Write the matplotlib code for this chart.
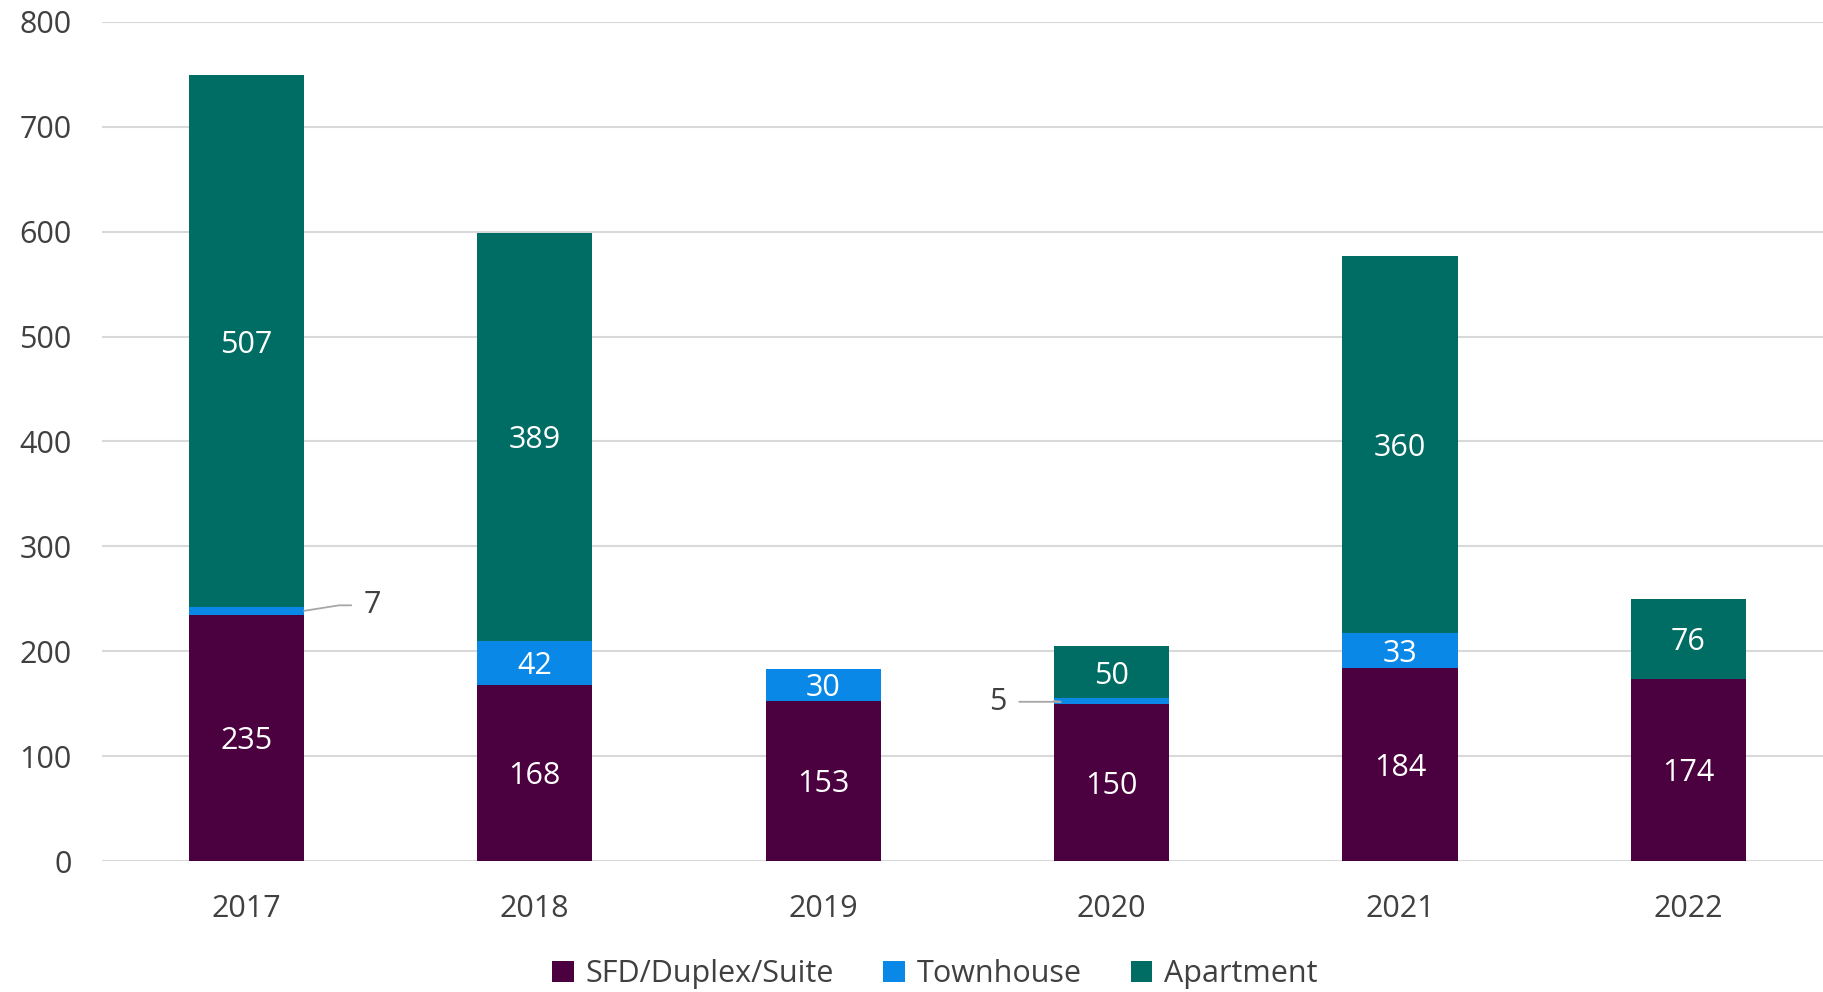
import matplotlib
matplotlib.use("Agg")
import matplotlib.pyplot as plt
import numpy as np

years = ["2017", "2018", "2019", "2020", "2021", "2022"]
sfd = [235, 168, 153, 150, 184, 174]
townhouse = [7, 42, 30, 5, 33, 0]
apartment = [507, 389, 0, 50, 360, 76]
series_names = ["SFD/Duplex/Suite", "Townhouse", "Apartment"]
colors = ["#4B003F", "#0A88E8", "#006D64"]
yticks = [0, 100, 200, 300, 400, 500, 600, 700, 800]

plt.rcParams['font.family'] = ['Open Sans', 'DejaVu Sans']
text_color = "#404040"

fig = plt.figure(figsize=(18.24, 9.92), dpi=100)
ax = fig.add_axes([0.056, 0.132, 0.944, 0.846])

x = np.arange(len(years))
width = 0.4
bottoms = np.zeros(len(years))
handles = []
for name, vals, col in zip(series_names, [sfd, townhouse, apartment], colors):
    vals = np.array(vals, dtype=float)
    b = ax.bar(x, vals, width, bottom=bottoms, color=col, label=name,
               edgecolor=col, linewidth=0, zorder=3)
    handles.append(b)
    for i, v in enumerate(vals):
        if v >= 20:
            ax.text(x[i], bottoms[i] + v / 2, f"{int(v)}", ha='center', va='center_baseline',
                    color='white', fontsize=22, zorder=4)
    bottoms = bottoms + vals

# small-segment callouts
sfd_arr = np.array(sfd, dtype=float)
th_arr = np.array(townhouse, dtype=float)
ax.annotate(f"{townhouse[0]}", xy=(x[0] + width / 2, sfd_arr[0] + th_arr[0] / 2),
            xytext=(43, 6.5), textcoords='offset points', ha='left', va='center_baseline',
            fontsize=22, color=text_color,
            arrowprops=dict(arrowstyle='-', color='#A6A6A6', lw=1.3,
                            connectionstyle='angle,angleA=0,angleB=9,rad=0',
                            shrinkA=7, shrinkB=0))
ax.annotate(f"{townhouse[3]}", xy=(x[3] - width / 2, sfd_arr[3] + th_arr[3] / 2),
            xytext=(-34, 2), textcoords='offset points', ha='right', va='center_baseline',
            fontsize=22, color=text_color,
            arrowprops=dict(arrowstyle='-', color='#A6A6A6', lw=1.3,
                            connectionstyle='angle,angleA=0,angleB=-6,rad=0',
                            shrinkA=7, shrinkB=0))

ax.set_xlim(-0.5, 5.47)
ax.set_ylim(0, 800)
ax.set_yticks(yticks)
ax.set_xticks(x)
ax.set_xticklabels(years)
ax.tick_params(axis='both', length=0, labelsize=22, colors=text_color)
ax.tick_params(axis='y', pad=22)
ax.tick_params(axis='x', pad=24)
ax.grid(axis='y', color='#D9D9D9', lw=1.5, zorder=0)
for s in ax.spines.values():
    s.set_visible(False)

fig.legend(handles=handles, labels=series_names, loc='center',
           bbox_to_anchor=(935 / 1824, 1 - 974 / 992), ncol=3, frameon=False,
           fontsize=22, labelcolor=text_color, handlelength=0.7, handleheight=0.7,
           handletextpad=0.4, columnspacing=1.6)

fig.savefig("out.png", dpi=100)
